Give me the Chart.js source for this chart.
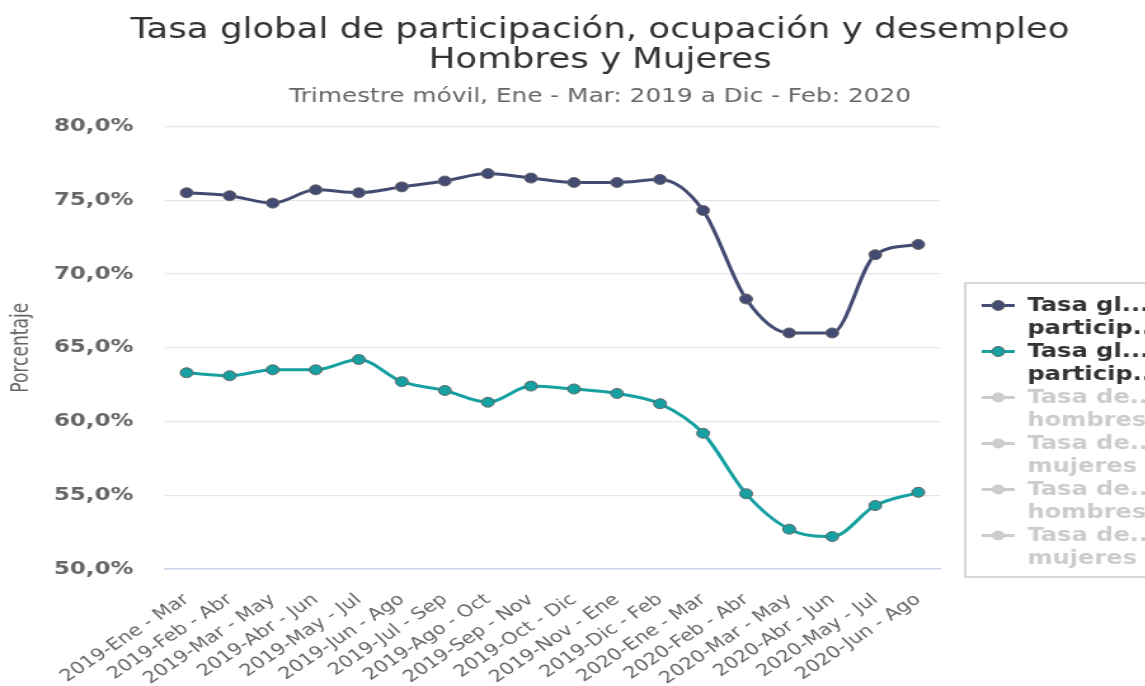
<!DOCTYPE html>
<html>
<head>
<meta charset="utf-8">
<script src="https://cdn.jsdelivr.net/npm/chart.js@4.4.0/dist/chart.umd.min.js"></script>
<style>
html, body { margin: 0; padding: 0; background: #fff; overflow: hidden; }
/* the reference is a horizontally stretched screenshot, so stretch the canvas the same way */
#wrap { width: 945px; height: 686px; transform: scaleX(1.27); transform-origin: 0 0; }
</style>
</head>
<body>
<div id="wrap"><canvas id="chart" width="945" height="686"></canvas></div>
<script>
var categories = [
	'2019-Ene - Mar', '2019-Feb - Abr', '2019-Mar - May', '2019-Abr - Jun',
	'2019-May - Jul', '2019-Jun - Ago', '2019-Jul - Sep', '2019-Ago - Oct',
	'2019-Sep - Nov', '2019-Oct - Dic', '2019-Nov - Ene', '2019-Dic - Feb',
	'2020-Ene - Mar', '2020-Feb - Abr', '2020-Mar - May', '2020-Abr - Jun',
	'2020-May - Jul', '2020-Jun - Ago'
];
var participacionHombres = [75.5, 75.3, 74.8, 75.7, 75.5, 75.9, 76.3, 76.8, 76.5, 76.2, 76.2, 76.4, 74.3, 68.3, 66.0, 66.0, 71.3, 72.0];
var participacionMujeres = [63.3, 63.1, 63.5, 63.5, 64.2, 62.7, 62.1, 61.3, 62.4, 62.2, 61.9, 61.2, 59.2, 55.1, 52.7, 52.2, 54.3, 55.2];

var seriesNames = [
	'Tasa global de participación hombres',
	'Tasa global de participación mujeres',
	'Tasa de ocupación hombres',
	'Tasa de ocupación mujeres',
	'Tasa de desempleo hombres',
	'Tasa de desempleo mujeres'
];
// what the legend shows (names are cut off in the original)
var legendLines = [
	['Tasa gl...', 'particip...'],
	['Tasa gl...', 'particip...'],
	['Tasa de...', 'hombres'],
	['Tasa de...', 'mujeres'],
	['Tasa de...', 'hombres'],
	['Tasa de...', 'mujeres']
];
var yMin = 50, yMax = 80, yStep = 5;

var colorH = '#434b72';
var colorM = '#16a0a1';
var FONT = "'DejaVu Sans', Verdana, sans-serif";

function serie(i, data, color) {
	return {
		label: seriesNames[i],
		data: data,
		borderColor: color,
		backgroundColor: color,
		borderWidth: 3,
		pointRadius: 5,
		pointBorderWidth: 1,
		pointBorderColor: '#666666',
		pointBackgroundColor: color,
		cubicInterpolationMode: 'monotone',
		hidden: !data.length
	};
}

// legend drawn in the space kept free by the empty 'legendSpace' axis
var boxLegend = {
	id: 'boxLegend',
	afterDraw: function (chart) {
		var ctx = chart.ctx;
		var x = chart.scales.legendSpace.left + 20, y = 283, w = 180, h = 294;
		ctx.save();
		ctx.strokeStyle = '#cccccc';
		ctx.lineWidth = 1.5;
		ctx.strokeRect(x, y, w, h);
		ctx.font = 'bold 19px ' + FONT;
		ctx.textBaseline = 'middle';
		chart.data.datasets.forEach(function (ds, i) {
			var on = chart.isDatasetVisible(i);
			var c = on ? ds.borderColor : '#cccccc';
			var cy = y + 22.5 + i * 46;
			ctx.strokeStyle = c;
			ctx.lineWidth = 3;
			ctx.beginPath();
			ctx.moveTo(x + 13, cy);
			ctx.lineTo(x + 39, cy);
			ctx.stroke();
			ctx.beginPath();
			ctx.arc(x + 26, cy, 5, 0, Math.PI * 2);
			ctx.fillStyle = c;
			ctx.fill();
			if (on) {
				ctx.lineWidth = 1;
				ctx.strokeStyle = '#666666';
				ctx.stroke();
			}
			ctx.fillStyle = on ? '#333333' : '#cccccc';
			legendLines[i].forEach(function (t, k) {
				ctx.fillText(t, x + 49, cy + 1 + k * 23);
			});
		});
		ctx.restore();
	}
};

var chart = new Chart(document.getElementById('chart'), {
	type: 'line',
	data: {
		labels: categories,
		datasets: [
			serie(0, participacionHombres, colorH),
			serie(1, participacionMujeres, colorM),
			serie(2, [], '#7cb5ec'),
			serie(3, [], '#f7a35c'),
			serie(4, [], '#90ed7d'),
			serie(5, [], '#8085e9')
		]
	},
	options: {
		responsive: false,
		animation: false,
		layout: { padding: 0 },
		plugins: {
			legend: { display: false },
			tooltip: { enabled: false },
			title: {
				display: true,
				text: ['Tasa global de participación, ocupación y desempleo', 'Hombres y Mujeres'],
				color: '#333333',
				font: { family: FONT, size: 28, weight: 'normal', lineHeight: '30px' },
				padding: { top: 16, bottom: 9 }
			},
			subtitle: {
				display: true,
				text: 'Trimestre móvil, Ene - Mar: 2019 a Dic - Feb: 2020',
				color: '#666666',
				font: { family: FONT, size: 19.5, weight: 'normal', lineHeight: 1.2 },
				padding: { top: 0, bottom: 18 }
			}
		},
		scales: {
			x: {
				offset: true,
				grid: { display: false, drawTicks: false },
				border: { display: true, color: '#ccd6eb', width: 1.5 },
				ticks: {
					autoSkip: false,
					minRotation: 40,
					maxRotation: 40,
					padding: 21,
					color: '#666666',
					font: { family: FONT, size: 16.5 }
				},
				afterFit: function (s) { s.height = 117; }
			},
			y: {
				min: yMin,
				max: yMax,
				grid: { color: '#e6e6e6', lineWidth: 1.3, drawTicks: false },
				border: { display: false },
				ticks: {
					stepSize: yStep,
					padding: 25,
					color: '#666666',
					font: { family: FONT, size: 18, weight: 'bold' },
					callback: function (v) { return v.toFixed(1).replace('.', ',') + '%'; }
				},
				title: {
					display: true,
					text: 'Porcentaje',
					color: '#666666',
					padding: { top: 6, bottom: 0 },
					font: { family: "'Liberation Sans Narrow', 'DejaVu Sans Condensed', sans-serif", size: 19 }
				},
				afterFit: function (s) { s.width = 130; }
			},
			legendSpace: {
				type: 'linear',
				position: 'right',
				grid: { display: false, drawTicks: false },
				border: { display: false },
				ticks: { display: false },
				afterFit: function (s) { s.width = 205; }
			}
		}
	},
	plugins: [boxLegend]
});
</script>
</body>
</html>
